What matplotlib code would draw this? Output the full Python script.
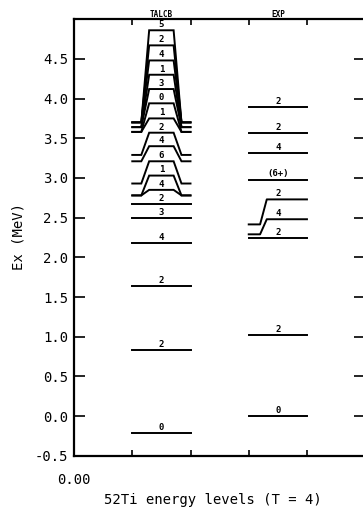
# 52Ti level scheme: TALCB calculation vs experiment
import matplotlib
matplotlib.use("Agg")
import matplotlib.pyplot as plt

plt.rcParams['font.family'] = ['DejaVu Sans Mono']

# TALCB levels: spin label, true energy, energy where the label is drawn
talcb_spins = ['0', '2', '2', '4', '3', '2', '4', '1', '6', '4',
               '2', '1', '0', '3', '1', '4', '2', '5']
talcb_true = [-0.21, 0.83, 1.635, 2.18, 2.49, 2.67, 2.78, 2.78, 2.93, 3.21,
              3.29, 3.58, 3.58, 3.64, 3.64, 3.70, 3.70, 3.70]
talcb_shown = [-0.21, 0.83, 1.635, 2.18, 2.49, 2.67, 2.85, 3.03, 3.21, 3.40,
               3.57, 3.75, 3.94, 4.12, 4.30, 4.48, 4.67, 4.86]

# experimental levels
exp_spins = ['0', '2', '2', '4', '2', '(6+)', '4', '2', '2']
exp_true = [0.0, 1.02, 2.24, 2.29, 2.415, 2.98, 3.31, 3.56, 3.89]
exp_shown = [0.0, 1.02, 2.24, 2.48, 2.73, 2.98, 3.31, 3.56, 3.89]

yticks = [-0.5, 0.0, 0.5, 1.0, 1.5, 2.0, 2.5, 3.0, 3.5, 4.0, 4.5]

fig = plt.figure(figsize=(3.63, 5.18), dpi=100)
ax = fig.add_axes([0.204, 0.12, 0.802, 0.843])

a, b = 0.155, 0.29  # step geometry inside a column

# TALCB column from x=1 to x=2, stepped on both sides
for s, e, d in zip(talcb_spins, talcb_true, talcb_shown):
    xs = [1, 1 + a, 1 + b, 2 - b, 2 - a, 2]
    ys = [e, e, d, d, e, e]
    ax.plot(xs, ys, color='black', lw=1.4, solid_joinstyle='miter')
    ax.annotate(s, (1.5, d), xytext=(0, 0.8), textcoords='offset points',
                ha='center', va='bottom', fontsize=6.5, fontweight='bold')

# EXP column from x=3 to x=4, stepped on the left only
for s, e, d in zip(exp_spins, exp_true, exp_shown):
    xs = [3, 3 + a + 0.04, 3 + b + 0.02, 4]
    ys = [e, e, d, d]
    ax.plot(xs, ys, color='black', lw=1.4)
    ax.annotate(s, (3.5, d), xytext=(0, 0.8), textcoords='offset points',
                ha='center', va='bottom', fontsize=6.5, fontweight='bold')

ax.text(1.5, 5.0, 'TALCB', ha='center', va='bottom', fontsize=5.5,
        fontweight='bold', clip_on=False)
ax.text(3.5, 5.0, 'EXP', ha='center', va='bottom', fontsize=5.5,
        fontweight='bold', clip_on=False)

ax.set_xlim(0, 5)
ax.set_ylim(-0.5, 5.0)
ax.set_yticks(yticks)
ax.set_yticklabels(['%.1f' % v for v in yticks])
ax.set_xticks([0, 1, 2, 3, 4])
ax.set_xticklabels(['0.00', '', '', '', ''])
ax.tick_params(axis='y', direction='in', length=8, width=1.2, pad=4,
               labelsize=10, right=True)
ax.tick_params(axis='x', direction='in', length=4, width=1.2, pad=12,
               labelsize=10, top=True)
for sp in ax.spines.values():
    sp.set_linewidth(1.6)

fig.text(0.05, 0.543, 'Ex (MeV)', rotation=90, ha='center', va='center',
         fontsize=10)
fig.text(0.587, 0.035, '52Ti energy levels (T = 4)', ha='center',
         va='center', fontsize=10)

fig.savefig('out.png', dpi=100)
